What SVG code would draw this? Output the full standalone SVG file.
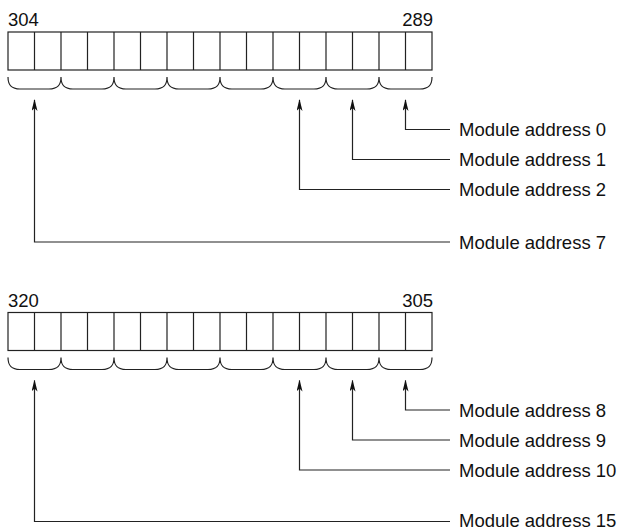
<svg xmlns="http://www.w3.org/2000/svg" width="620" height="530" viewBox="0 0 620 530">
<defs>
<style>
text{font-family:"Liberation Sans",Arial,sans-serif;font-size:18.5px;fill:#111}
.ln{fill:none;stroke:#222;stroke-width:1.2}
.cell{fill:#fff;stroke:#222;stroke-width:1.2}
</style>
<marker id="ah" viewBox="0 0 12 6" refX="11" refY="3" markerWidth="12" markerHeight="6" markerUnits="userSpaceOnUse" orient="auto-start-reverse">
<path d="M0,0 L12,3 L0,6 L3,3 Z" fill="#111"/>
</marker>
<g id="reg">
<rect class="cell" x="8" y="0" width="424" height="38"/>
<path class="ln" d="M34.5,0V38M61,0V38M87.5,0V38M114,0V38M140.5,0V38M167,0V38M193.5,0V38M220,0V38M246.5,0V38M273,0V38M299.5,0V38M326,0V38M352.5,0V38M379,0V38M405.5,0V38"/>
<path class="ln" d="M8,45 C8,53 11,57 20,57 H49 C58,57 61,53 61,45 C61,53 64,57 73,57 H102 C111,57 114,53 114,45 C114,53 117,57 126,57 H155 C164,57 167,53 167,45 C167,53 170,57 179,57 H208 C217,57 220,53 220,45 C220,53 223,57 232,57 H261 C270,57 273,53 273,45 C273,53 276,57 285,57 H314 C323,57 326,53 326,45 C326,53 329,57 338,57 H367 C376,57 379,53 379,45 C379,53 382,57 391,57 H420 C429,57 432,53 432,45"/>
</g>
</defs>

<g id="register-289-304">
<use href="#reg" y="32"/>
<text x="8" y="26">304</text>
<text x="433" y="26" text-anchor="end">289</text>
</g>

<g id="register-305-320">
<use href="#reg" y="312.5"/>
<text x="8" y="306.5">320</text>
<text x="433" y="306.5" text-anchor="end">305</text>
</g>

<g id="label-0"><text x="459" y="136">Module address 0</text></g>
<g id="label-1"><text x="459" y="166">Module address 1</text></g>
<g id="label-2"><text x="459" y="196">Module address 2</text></g>
<g id="label-7"><text x="459" y="248.5">Module address 7</text></g>
<g id="label-8"><text x="459" y="416.5">Module address 8</text></g>
<g id="label-9"><text x="459" y="446.5">Module address 9</text></g>
<g id="label-10"><text x="459" y="476.5">Module address 10</text></g>
<g id="label-15"><text x="459" y="527">Module address 15</text></g>

<g id="connectors">
<path class="ln" marker-start="url(#ah)" d="M405.5,100 V129.5 H450"/>
<path class="ln" marker-start="url(#ah)" d="M352.5,100 V159.5 H450"/>
<path class="ln" marker-start="url(#ah)" d="M299.5,100 V189.5 H450"/>
<path class="ln" marker-start="url(#ah)" d="M34.5,100 V242 H450"/>
<path class="ln" marker-start="url(#ah)" d="M405.5,380.5 V410 H450"/>
<path class="ln" marker-start="url(#ah)" d="M352.5,380.5 V440 H450"/>
<path class="ln" marker-start="url(#ah)" d="M299.5,380.5 V470 H450"/>
<path class="ln" marker-start="url(#ah)" d="M34.5,380.5 V521.5 H450"/>
</g>
</svg>
